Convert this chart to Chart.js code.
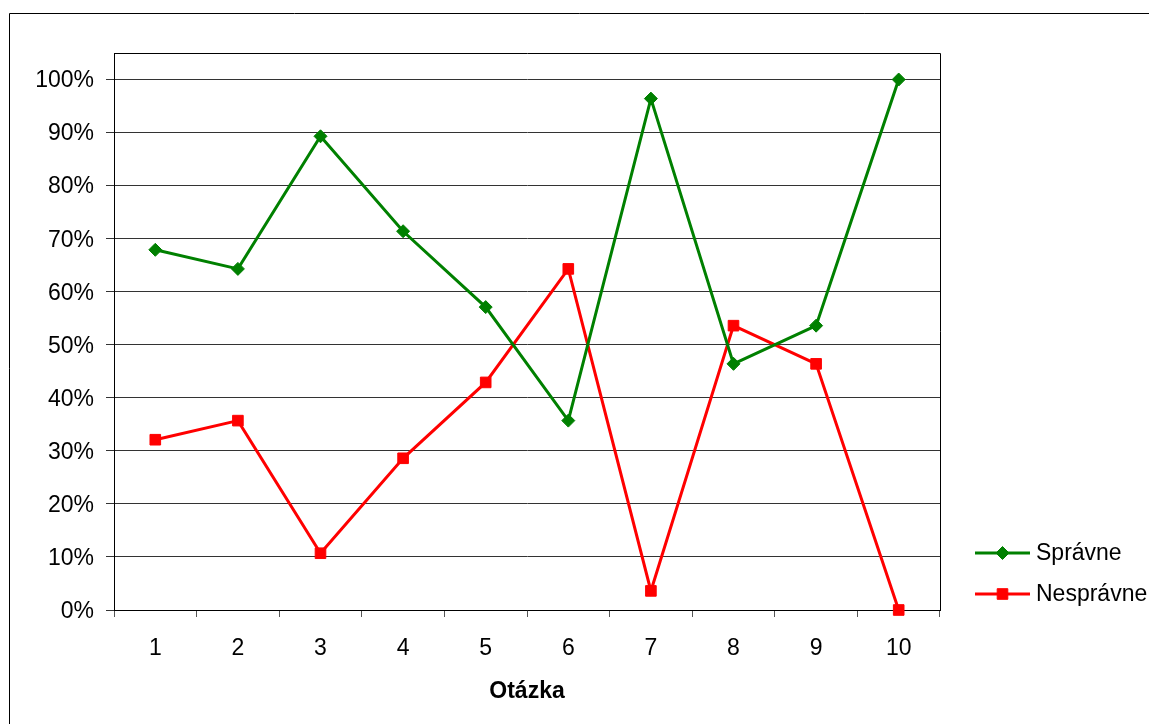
<!DOCTYPE html>
<html>
<head>
<meta charset="utf-8">
<script src="https://cdn.jsdelivr.net/npm/chart.js@4.4.1/dist/chart.umd.min.js"></script>
<style>
  html, body { margin: 0; padding: 0; background: #fff; }
  #wrap { width: 1149px; height: 724px; position: relative; }
</style>
</head>
<body>
<div id="wrap"><canvas id="lineChart" width="1149" height="724"></canvas></div>
<script>
// Otázky a podiel odpovedí (v %)
const questions = ['1', '2', '3', '4', '5', '6', '7', '8', '9', '10'];
const correct = [67.9, 64.3, 89.3, 71.4, 57.1, 35.7, 96.4, 46.4, 53.6, 100];
const wrong = [32.1, 35.7, 10.7, 28.6, 42.9, 64.3, 3.6, 53.6, 46.4, 0];
const seriesNames = ['Správne', 'Nesprávne'];

const FONT = "'Liberation Sans', Arial, sans-serif";
const FONT_SIZE = 23;

// Rámček okolo grafu, okraj plochy grafu a legenda vpravo
const framePlugin = {
    id: 'frame',
    beforeDraw(chart) {
        const ctx = chart.ctx;
        ctx.save();
        ctx.strokeStyle = '#000';
        ctx.lineWidth = 1;
        ctx.beginPath();
        ctx.moveTo(9.5, 724);
        ctx.lineTo(9.5, 13.5);
        ctx.lineTo(1149, 13.5);
        ctx.stroke();
        ctx.restore();
    },
    afterDatasetsDraw(chart) {
        const ctx = chart.ctx;
        const a = chart.chartArea;
        ctx.save();
        ctx.strokeStyle = '#000';
        ctx.lineWidth = 1;
        ctx.beginPath();
        ctx.moveTo(Math.round(a.left) + 0.5, Math.round(a.top) + 0.5);
        ctx.lineTo(Math.round(a.right) + 0.5, Math.round(a.top) + 0.5);
        ctx.lineTo(Math.round(a.right) + 0.5, Math.round(a.bottom));
        ctx.stroke();

        // legenda
        const x0 = 975, x1 = 1030, rows = [553, 594];
        chart.data.datasets.forEach((ds, i) => {
            const y = rows[i];
            ctx.strokeStyle = ds.borderColor;
            ctx.fillStyle = ds.backgroundColor;
            ctx.lineWidth = 3;
            ctx.beginPath();
            ctx.moveTo(x0, y);
            ctx.lineTo(x1, y);
            ctx.stroke();
            ctx.lineWidth = 1;
            Chart.helpers.drawPoint(ctx, {
                pointStyle: ds.pointStyle,
                radius: ds.pointRadius,
                borderWidth: 1
            }, (x0 + x1) / 2, y);
            ctx.fillStyle = '#000';
            ctx.font = FONT_SIZE + 'px ' + FONT;
            ctx.textBaseline = 'middle';
            ctx.textAlign = 'left';
            ctx.fillText(ds.label, 1036, y + 1);
        });
        ctx.restore();
    }
};

const data = {
    labels: questions,
    datasets: [{
        label: seriesNames[0],
        data: correct,
        borderColor: '#008000',
        backgroundColor: '#008000',
        pointStyle: 'rectRot',
        pointRadius: 6.5,
        pointBorderWidth: 1,
        borderWidth: 3
    }, {
        label: seriesNames[1],
        data: wrong,
        borderColor: '#ff0000',
        backgroundColor: '#ff0000',
        pointStyle: 'rect',
        pointRadius: 7.5,
        pointBorderWidth: 1,
        borderWidth: 3
    }]
};

const config = {
    type: 'line',
    data: data,
    plugins: [framePlugin],
    options: {
        responsive: false,
        animation: false,
        clip: false,
        elements: { line: { tension: 0 } },
        layout: { padding: { left: 0, top: 53, right: 209, bottom: 0 } },
        scales: {
            x: {
                offset: true,
                grid: { offset: true, drawOnChartArea: false, drawTicks: true, tickLength: 7, color: '#555', lineWidth: 1 },
                border: { display: true, color: '#000', width: 1 },
                ticks: { color: '#000', font: { family: FONT, size: FONT_SIZE }, padding: 18, maxRotation: 0 },
                title: { display: true, text: 'Otázka', color: '#000', font: { family: FONT, size: FONT_SIZE, weight: 'bold' }, padding: { top: 0, bottom: 19 } },
                afterFit(scale) { scale.height = 114; }
            },
            y: {
                min: 0,
                max: 105,
                grid: { color: '#333', lineWidth: 1, drawTicks: true, tickLength: 8 },
                border: { display: true, color: '#000', width: 1 },
                ticks: {
                    stepSize: 10,
                    color: '#000',
                    padding: 12,
                    labelOffset: 1.5,
                    font: { family: FONT, size: FONT_SIZE },
                    callback: (v) => Math.round(v) + '%'
                },
                afterBuildTicks(scale) {
                    scale.ticks = scale.ticks.filter(t => t.value <= 100.001);
                },
                afterFit(scale) { scale.width = 114; }
            }
        },
        plugins: {
            legend: { display: false },
            tooltip: { enabled: false }
        }
    }
};

new Chart(document.getElementById('lineChart'), config);
</script>
</body>
</html>
